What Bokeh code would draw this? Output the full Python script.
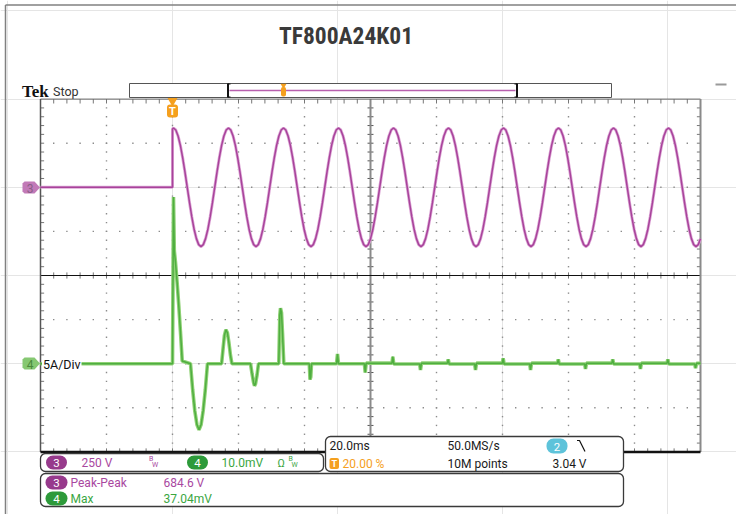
import numpy as np
from bokeh.plotting import figure
from bokeh.models import Range1d
from bokeh.core.properties import value
from bokeh.embed import file_html
from bokeh.resources import INLINE

# ----------------------------------------------------------------- data
TITLE = "TF800A24K01"
TIME_START_MS, TIME_END_MS = -40.0, 160.0      # 20 ms/div, trigger at 20 %
MS_PER_DIV = 20.0
CH3_V_PER_DIV, CH3_POS_DIV = 250.0, 2.0
CH4_A_PER_DIV, CH4_POS_DIV = 5.0, -2.0

# CH3 : voltage (V), sampled every 0.694 ms after the trigger
ch3_pre_t = [-40.0, 0.0, 0.0]
ch3_pre_v = [0.0, 0.0, 330.0]
CH3_FIRST_SAMPLE_MS = 0.3
CH3_SAMPLE_STEP_MS = 0.694444
ch3_v = [
    336, 325, 291, 238, 168, 87, 0, -87, -168, -238, -291, -325, -336, -325, -291, -238, -168, -87, 0, 87, 168, 238, 291, 325,
    336, 325, 291, 238, 168, 87, 0, -87, -168, -238, -291, -325, -336, -325, -291, -238, -168, -87, 0, 87, 168, 238, 291, 325,
    336, 325, 291, 238, 168, 87, 0, -87, -168, -238, -291, -325, -336, -325, -291, -238, -168, -87, 0, 87, 168, 238, 291, 325,
    336, 325, 291, 238, 168, 87, 0, -87, -168, -238, -291, -325, -336, -325, -291, -238, -168, -87, 0, 87, 168, 238, 291, 325,
    336, 325, 291, 238, 168, 87, 0, -87, -168, -238, -291, -325, -336, -325, -291, -238, -168, -87, 0, 87, 168, 238, 291, 325,
    336, 325, 291, 238, 168, 87, 0, -87, -168, -238, -291, -325, -336, -325, -291, -238, -168, -87, 0, 87, 168, 238, 291, 325,
    336, 325, 291, 238, 168, 87, 0, -87, -168, -238, -291, -325, -336, -325, -291, -238, -168, -87, 0, 87, 168, 238, 291, 325,
    336, 325, 291, 238, 168, 87, 0, -87, -168, -238, -291, -325, -336, -325, -291, -238, -168, -87, 0, 87, 168, 238, 291, 325,
    336, 325, 291, 238, 168, 87, 0, -87, -168, -238, -291, -325, -336, -325, -291, -238, -168, -87, 0, 87, 168, 238, 291, 325,
    336, 325, 291, 238, 168, 87, 0, -87, -168, -238, -291, -325, -336, -325,
]
ch3_last_t, ch3_last_v = 160.0, -292.0

# CH4 : current (A)
ch4_t = [
    -40.0, 0.0,
    0.3, 0.55, 0.9, 1.4, 1.9, 2.4, 2.95, 5.45,
    6.1, 6.74, 7.4, 8.03, 8.67, 9.3, 9.96, 10.6, 14.88,
    15.27, 15.73, 16.18, 16.64, 17.09, 17.55, 18.0, 23.64,
    24.09, 24.55, 24.85, 25.15, 25.61, 26.06, 32.21,
    32.52, 32.73, 33.03, 33.33, 33.73, 41.45,
    41.67, 41.9, 42.12, 49.7,
    50.0, 50.3, 58.15,
    58.4, 58.7, 66.5,
    66.76, 67.05, 74.9,
    75.15, 75.45, 83.3,
    83.55, 83.85, 91.57,
    91.82, 92.12, 99.95,
    100.2, 100.5, 108.25,
    108.5, 108.8, 116.65,
    116.9, 117.2, 124.9,
    125.15, 125.45, 133.15,
    133.4, 133.7, 141.55,
    141.8, 142.1, 149.85,
    150.1, 150.4, 158.25,
    158.5, 158.8, 160.0,
]
ch4_a = [
    0.0, 0.0,
    18.9, 12.8, 11.5, 9.2, 6.6, 3.7, 0.3, 0.0,
    -2.9, -5.3, -6.9, -7.5, -6.9, -5.3, -2.9, 0.0, 0.0,
    1.5, 3.2, 3.86, 3.5, 2.4, 1.0, 0.0, 0.0,
    -1.1, -2.1, -2.5, -2.3, -1.3, 0.0, 0.0,
    5.5, 6.3, 5.8, 3.5, 0.0, 0.0,
    -1.8, -1.5, 0.0, 0.0,
    1.1, 0.0, 0.0,
    -1.0, 0.06, 0.06,
    0.8, -0.04, -0.04,
    -0.7, 0.06, 0.06,
    0.5, -0.04, -0.04,
    -0.7, 0.06, 0.06,
    0.6, -0.04, -0.04,
    -0.7, 0.06, 0.06,
    0.5, -0.04, -0.04,
    -0.6, 0.06, 0.06,
    0.5, -0.04, -0.04,
    -0.6, 0.06, 0.06,
    0.5, -0.04, -0.04,
    -0.5, 0.04, 0.04,
]

# read-outs
ch3_scale_txt, ch4_scale_txt = "250 V", "10.0mV"
timebase_txt, rate_txt, points_txt = "20.0ms", "50.0MS/s", "10M points"
trig_pos_txt, trig_level_txt = "20.00 %", "3.04 V"
meas_names = ["Peak-Peak", "Max"]
meas_values = ["684.6 V", "37.04mV"]
ch4_label = "5A/Div"

# ----------------------------------------------------------------- layout helpers
W, H = 736, 514
def X(px):   # canvas px -> ms
    return TIME_START_MS + (px - 40.0) / 66.0 * MS_PER_DIV
def Y(py):   # canvas px -> div
    return (275.0 - py) / 44.1

FONT = "Roboto"
TITLE_FONT = "Roboto Condensed, DejaVu Sans Condensed, Roboto"
PURPLE_TRACE, PURPLE_HALO = "#a8439b", "#dca6d5"
GREEN_TRACE, GREEN_HALO = "#4fae40", "#8fd175"
PURPLE_TEXT, PURPLE_BADGE = "#a9489f", "#973a8c"
GREEN_TEXT, GREEN_BADGE = "#3aa63f", "#2d9a3a"
ORANGE, CYAN = "#f5a01e", "#5ec3da"

p = figure(width=W, height=H, x_range=Range1d(X(0), X(W)), y_range=Range1d(Y(H), Y(0)),
           output_backend="svg", toolbar_location=None, x_axis_location=None,
           y_axis_location=None, min_border=0, outline_line_color=None,
           background_fill_color="white", border_fill_color="white")
p.extra_y_ranges = {
    "ch3": Range1d((Y(H) - CH3_POS_DIV) * CH3_V_PER_DIV, (Y(0) - CH3_POS_DIV) * CH3_V_PER_DIV),
    "ch4": Range1d((Y(H) - CH4_POS_DIV) * CH4_A_PER_DIV, (Y(0) - CH4_POS_DIV) * CH4_A_PER_DIV),
}


def segs(pts, color, width=1.0):
    p.segment(x0=[X(a) for a, b, c, d in pts], y0=[Y(b) for a, b, c, d in pts],
              x1=[X(c) for a, b, c, d in pts], y1=[Y(d) for a, b, c, d in pts],
              line_color=color, line_width=width)


def txt(px, py, s, size="12px", color="#222222", align="left", font=FONT, style="normal"):
    p.text(x=[X(px)], y=[Y(py)], text=[s], text_font=value(font), text_font_size=size,
           text_color=color, text_align=align, text_baseline="middle", text_font_style=style)


def box(l, r, t, b, fill, line=None, lw=1.0, radius=0):
    p.quad(left=[X(l)], right=[X(r)], top=[Y(t)], bottom=[Y(b)], fill_color=fill,
           line_color=line, line_width=lw, border_radius=int(round(radius)))


def pill(cx, cy, w, h, color, label):
    box(cx - w / 2, cx + w / 2, cy - h / 2, cy + h / 2, color, None, radius=h // 2)
    txt(cx, cy + 0.5, label, "11.5px", "white", "center")


# ----------------------------------------------------------------- outer frame, title
segs([(5, 514, 5, 4.5), (5, 4.5, 736, 4.5)], "#808080", 1.5)
txt(345.5, 35, TITLE, "23.5px", "#3a3a3a", "center", TITLE_FONT, "bold")
txt(21.5, 90.5, "Tek", "17px", "#111111", "left", "Liberation Serif", "bold")
txt(52.5, 90.5, "Stop", "12.5px", "#333333")

# record bar
box(129, 611, 83, 97, "white", "#555555", 1.0)
segs([(229, 90, 515, 90)], "#b860ae", 1.5)
segs([(227.5, 83, 227.5, 97), (516.5, 83, 516.5, 97)], "#111111", 2.0)
segs([(227.5, 83.5, 230, 83.5), (227.5, 96.5, 230, 96.5),
      (514, 83.5, 516.5, 83.5), (514, 96.5, 516.5, 96.5)], "#111111", 1.0)
p.scatter([X(283)], [Y(85)], marker="inverted_triangle", size=6, fill_color=ORANGE, line_color=None)
box(280.5, 285.5, 86.5, 96, ORANGE, None, radius=2)
segs([(715, 84, 726, 84)], "#9a9a9a", 2.0)

# ----------------------------------------------------------------- graticule
xs_major = [-20, 0, 20, 40, 80, 100, 120, 140]
ys_major = [-3, -2, -1, 1, 2, 3]
dx, dy = [], []
for xm in xs_major:
    for k in range(1, 40):
        dx.append(xm); dy.append(-4 + 0.2 * k)
for ym in ys_major:
    for k in range(1, 50):
        dx.append(-40 + 4 * k); dy.append(ym)
p.rect(dx, dy, width=1.4, height=1.4, width_units="screen", height_units="screen",
       fill_color="#8c8c8c", line_color=None)

tx = [-40 + 4 * k for k in range(1, 50)]
ty = [-4 + 0.2 * k for k in range(1, 40)]
hx, hy = 0.9, 0.07
p.segment(x0=tx, y0=[-hy] * len(tx), x1=tx, y1=[hy] * len(tx), line_color="#777777", line_width=1)
p.segment(x0=[60 - hx] * len(ty), y0=ty, x1=[60 + hx] * len(ty), y1=ty, line_color="#555555", line_width=1)
p.segment(x0=tx, y0=[4.0] * len(tx), x1=tx, y1=[3.9] * len(tx), line_color="#777777", line_width=1)
p.segment(x0=tx, y0=[-4.0] * len(tx), x1=tx, y1=[-3.92] * len(tx), line_color="#777777", line_width=1)
p.segment(x0=[-40.0] * len(ty), y0=ty, x1=[-38.9] * len(ty), y1=ty, line_color="#777777", line_width=1)
p.segment(x0=[160.0] * len(ty), y0=ty, x1=[158.9] * len(ty), y1=ty, line_color="#777777", line_width=1)

p.segment(x0=[60], y0=[-4], x1=[60], y1=[4], line_color="#8a8a8a", line_width=2)
p.segment(x0=[-40], y0=[0], x1=[160], y1=[0], line_color="#111111", line_width=1)
p.segment(x0=[-40], y0=[4], x1=[160], y1=[4], line_color="#666666", line_width=1)
p.segment(x0=[-40], y0=[-4], x1=[-40], y1=[4], line_color="#555555", line_width=1.5)
p.segment(x0=[160], y0=[-4], x1=[160], y1=[4], line_color="#8a8a8a", line_width=2)
p.segment(x0=[-40], y0=[-4], x1=[160], y1=[-4], line_color="#111111", line_width=2.5)

# ----------------------------------------------------------------- traces
ch3_t_all = ch3_pre_t + [CH3_FIRST_SAMPLE_MS + i * CH3_SAMPLE_STEP_MS for i in range(len(ch3_v))] + [ch3_last_t]
ch3_v_all = ch3_pre_v + ch3_v + [ch3_last_v]
p.line(ch3_t_all, ch3_v_all, y_range_name="ch3", line_color=PURPLE_HALO, line_width=3.0)
p.line(ch3_t_all, ch3_v_all, y_range_name="ch3", line_color=PURPLE_TRACE, line_width=1.5)

p.line(ch4_t, ch4_a, y_range_name="ch4", line_color=GREEN_HALO, line_width=3.6)
p.line(ch4_t, ch4_a, y_range_name="ch4", line_color=GREEN_TRACE, line_width=1.5)

# ch4 scale label (white background)
box(41.5, 81, 356, 370, "white", None)
txt(42.5, 363.5, ch4_label, "12.5px", "#111111")

# channel markers
for cy, fill, tc, lab in [(187, "#c27ab8", "#8a5f87", "3"), (363, "#86c872", "#4b8a3c", "4")]:
    pts = [(22, cy - 4), (24, cy - 6), (34, cy - 6), (39.5, cy), (34, cy + 6), (24, cy + 6), (22, cy + 4)]
    p.patch([X(a) for a, b in pts], [Y(b) for a, b in pts], fill_color=fill, line_color=None)
    txt(29.5, cy + 0.5, lab, "12px", tc, "center")

# trigger marker
p.scatter([X(172)], [Y(100.5)], marker="inverted_triangle", size=10, fill_color=ORANGE, line_color=None)
box(166.5, 177.5, 104, 117, ORANGE, None, radius=3)
txt(172, 111, "T", "11px", "white", "center", FONT, "bold")

# ----------------------------------------------------------------- read-out boxes
box(40, 323, 453, 471, "white", "#3a3a3a", 1.3, 5)
box(325, 623, 436, 471, "white", "#3a3a3a", 1.3, 5)
box(40, 623, 473, 506, "white", "#3a3a3a", 1.3, 5)

pill(56, 462, 21, 14, PURPLE_BADGE, "3")
txt(81, 462.5, ch3_scale_txt, "12px", PURPLE_TEXT)
txt(148.5, 458.5, "B", "7px", PURPLE_TEXT)
txt(151.5, 464.5, "W", "7px", PURPLE_TEXT)
pill(197, 462, 21, 14, GREEN_BADGE, "4")
txt(221, 462.5, ch4_scale_txt, "12px", GREEN_TEXT)
txt(277, 462.5, "Ω", "11px", GREEN_TEXT)
txt(288, 458.5, "B", "7px", GREEN_TEXT)
txt(291, 464.5, "W", "7px", GREEN_TEXT)

txt(329, 445.5, timebase_txt, "12px", "#1a1a1a")
txt(447, 445.5, rate_txt, "12px", "#1a1a1a")
pill(556.5, 445.5, 21, 15, CYAN, "2")
p.line([X(576.5), X(579), X(584.5)], [Y(440), Y(440), Y(451)], line_color="#111111", line_width=1.2)
box(329, 338.5, 457.5, 468.5, ORANGE, None, radius=2)
txt(333.75, 463.5, "T", "9px", "white", "center", FONT, "bold")
txt(342, 463.5, trig_pos_txt, "12px", ORANGE)
txt(447, 463.5, points_txt, "12px", "#1a1a1a")
txt(552, 463.5, trig_level_txt, "12px", "#1a1a1a")

pill(56, 482, 22, 14, PURPLE_BADGE, "3")
txt(70, 482.5, meas_names[0], "12px", PURPLE_TEXT)
txt(163, 482.5, meas_values[0], "12px", PURPLE_TEXT)
pill(56, 498, 22, 14, GREEN_BADGE, "4")
txt(70, 498.5, meas_names[1], "12px", GREEN_TEXT)
txt(163, 498.5, meas_values[1], "12px", GREEN_TEXT)

open("out.html", "w").write(file_html(p, INLINE))
